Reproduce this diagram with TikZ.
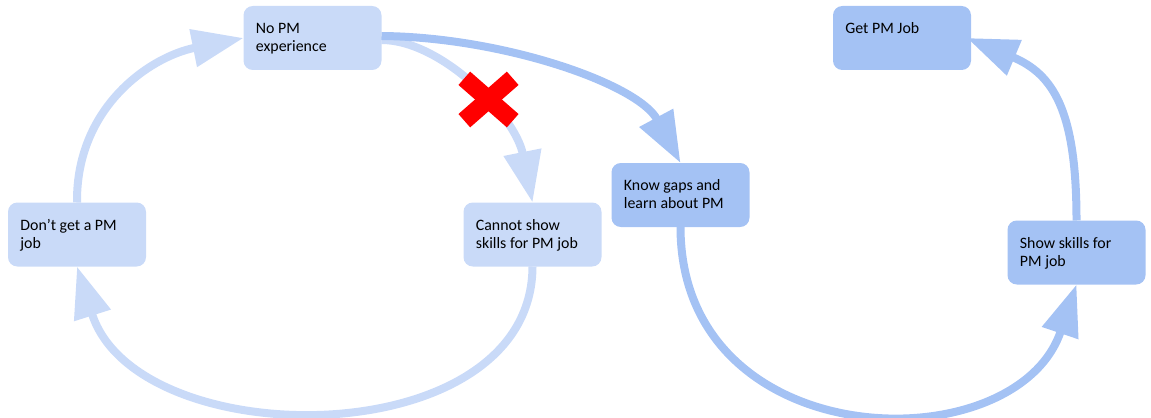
\documentclass[tikz,border=0pt]{standalone}
\usepackage{fontspec}
\setmainfont{Carlito}
\usetikzlibrary{arrows.meta}
\definecolor{lightblue}{HTML}{C9DAF8}
\definecolor{darkblue}{HTML}{A4C2F4}
\definecolor{crossred}{HTML}{FF0000}
\newcommand\boxtext[1]{\parbox[c][48pt][t]{84.9pt}{\raggedright\rule{0pt}{20.7pt}#1}}
\begin{document}
\begin{tikzpicture}[x=0.75pt,y=-0.75pt,
  box/.style={rounded corners=7pt, inner xsep=9.3pt, inner ysep=0pt, outer sep=0pt,
    text=black, font=\fontsize{11.9}{13.75}\selectfont},
  lightnode/.style={box, fill=lightblue},
  darknode/.style={box, fill=darkblue},
  flow/.style={line width=6pt, -{Triangle[length=38.5pt,width=27.4pt]}},
  lightflow/.style={flow, draw=lightblue},
  darkflow/.style={flow, draw=darkblue},
  crossbar/.style={draw=crossred, line width=13.3pt}
]
\useasboundingbox (0,0) rectangle (1151,417);

\node[lightnode] (A) at (312.5,38) {\boxtext{No PM\\experience}};
\node[lightnode] (B) at (77,234.5) {\boxtext{Don’t get a PM\\job}};
\node[lightnode] (C) at (532.5,234.5) {\boxtext{Cannot show\\skills for PM job}};
\node[darknode] (D) at (680.5,195) {\boxtext{Know gaps and\\learn about PM}};
\node[darknode] (E) at (902,38) {\boxtext{Get PM Job}};
\node[darknode] (F) at (1076.5,252.5) {\boxtext{Show skills for\\PM job}};

% light loop
\draw[lightflow] (B.north) .. controls (76,108) and (149,57) .. (A.west);
\draw[lightflow] ([yshift=-1.5]A.east) .. controls (441,40) and (515,115) .. (C.north);
\draw[lightflow] (C.south) .. controls (532,456) and (137,456) .. (B.south);

% dark path
\draw[darkflow] ([yshift=1.5]A.east) .. controls (503,37) and (638,84) .. (D.north);
\draw[darkflow] (D.south) .. controls (680.5,457) and (1015.7,464.5) .. (F.south);
\draw[darkflow] (F.north) .. controls (1076.5,110) and (1053,74) .. ([xshift=-3]E.east);

% red cross
\coordinate (X) at (488.5,99.5);
\draw[crossbar] ([shift={(-24.2,-21.2)}]X) -- ([shift={(24.2,21.2)}]X);
\draw[crossbar] ([shift={(24.2,-21.2)}]X) -- ([shift={(-24.2,21.2)}]X);
\end{tikzpicture}
\end{document}
